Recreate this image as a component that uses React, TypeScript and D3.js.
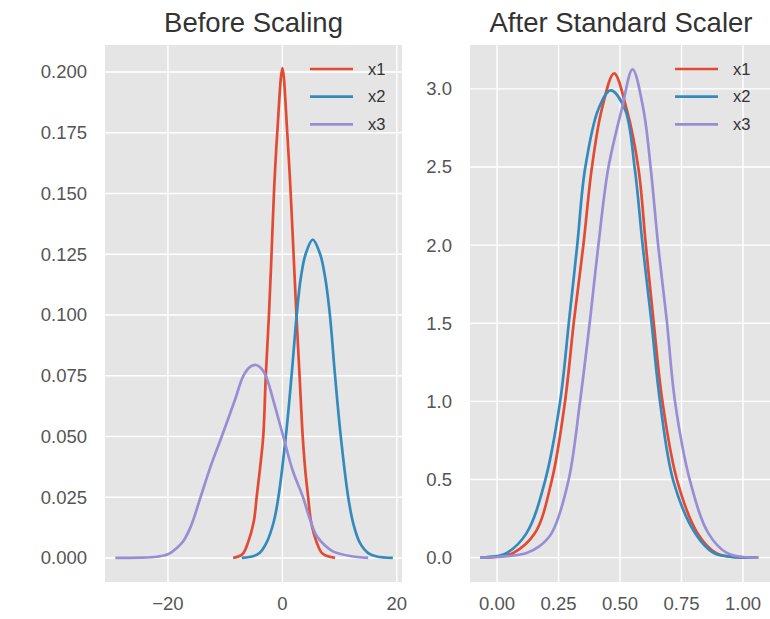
import React from "react";
import * as d3 from "d3";

// ---------- data ----------
const seriesNames = ["x1", "x2", "x3"];
const seriesColors = ["#E24A33", "#348ABD", "#988ED5"];

const beforeX1: [number, number][] = [
  [-8.6, 0], [-7, 0.0015], [-6, 0.0064], [-5, 0.015], [-4.5, 0.025], [-4, 0.035],
  [-3.35, 0.05], [-2.9, 0.075], [-2.35, 0.1], [-1.9, 0.125], [-1.48, 0.15], [-0.9, 0.175],
  [0, 0.2016], [0.85, 0.175], [1.45, 0.15], [1.95, 0.125], [2.45, 0.1], [3.0, 0.075],
  [3.55, 0.05], [4.0, 0.036], [4.5, 0.025], [5, 0.015], [6, 0.0064], [7, 0.0018], [9.2, 0],
];
const beforeX2: [number, number][] = [
  [-7.1, 0], [-5, 0.0008], [-4, 0.002], [-2.75, 0.0064], [-1.5, 0.015], [-0.7, 0.025],
  [0.6, 0.05], [1.6, 0.075], [2.5, 0.1], [3.2, 0.115], [4.05, 0.125], [5.3, 0.131],
  [6.6, 0.125], [7.5, 0.115], [8.3, 0.1], [9.2, 0.075], [10.2, 0.05], [11.5, 0.025],
  [12.4, 0.014], [13.5, 0.0064], [15, 0.002], [16.5, 0.0006], [19.3, 0],
];
const beforeX3: [number, number][] = [
  [-29.2, 0], [-25, 0.0001], [-22, 0.0005], [-20, 0.0015], [-18.5, 0.004], [-17.3, 0.007],
  [-16, 0.013], [-14.3, 0.025], [-12.5, 0.038], [-10.6, 0.05], [-8.3, 0.065], [-6.8, 0.075],
  [-5.6, 0.0787], [-4.6, 0.0794], [-3.8, 0.0783], [-2.9, 0.075], [-1.6, 0.065], [0.15, 0.05],
  [1.8, 0.036], [3.6, 0.025], [4.8, 0.016], [6.0, 0.009], [7.5, 0.005], [8.9, 0.0026],
  [11.8, 0.0008], [15, 0],
];

const afterX1: [number, number][] = [
  [-0.069, 0], [0.0, 0.006], [0.066, 0.03], [0.154, 0.157], [0.222, 0.49], [0.276, 0.994],
  [0.313, 1.52], [0.351, 2.0], [0.385, 2.49], [0.426, 2.87], [0.476, 3.1], [0.527, 2.87],
  [0.575, 2.49], [0.605, 2.0], [0.636, 1.52], [0.673, 0.994], [0.733, 0.49], [0.815, 0.157],
  [0.89, 0.03], [0.95, 0.006], [1.062, 0],
];
const afterX2: [number, number][] = [
  [-0.069, 0], [0.0, 0.01], [0.04, 0.03], [0.12, 0.157], [0.195, 0.49], [0.256, 0.994],
  [0.293, 1.52], [0.326, 2.0], [0.358, 2.49], [0.412, 2.87], [0.462, 2.99], [0.52, 2.87],
  [0.56, 2.49], [0.592, 2.0], [0.627, 1.52], [0.663, 0.994], [0.717, 0.49], [0.805, 0.157],
  [0.88, 0.03], [0.95, 0.006], [1.062, 0],
];
const afterX3: [number, number][] = [
  [-0.069, 0], [0.0, 0.004], [0.06, 0.012], [0.12, 0.03], [0.17, 0.07], [0.222, 0.157],
  [0.29, 0.49], [0.337, 0.994], [0.378, 1.52], [0.412, 2.0], [0.452, 2.49], [0.507, 2.87],
  [0.551, 3.125], [0.595, 2.87], [0.625, 2.49], [0.655, 2.0], [0.69, 1.52], [0.724, 0.994],
  [0.785, 0.49], [0.859, 0.157], [0.934, 0.03], [1.0, 0.004], [1.062, 0],
];

const beforeXTicks = [-20, 0, 20];
const beforeYTicks = [0, 0.025, 0.05, 0.075, 0.1, 0.125, 0.15, 0.175, 0.2];
const afterXTicks = [0, 0.25, 0.5, 0.75, 1.0];
const afterYTicks = [0, 0.5, 1.0, 1.5, 2.0, 2.5, 3.0];

const beforeXDomain: [number, number] = [-31.0, 20.9];
const beforeYDomain: [number, number] = [-0.0099, 0.2111];
const afterXDomain: [number, number] = [-0.11, 1.118];
const afterYDomain: [number, number] = [-0.156, 3.281];

const FONT = "'Liberation Sans', Arial, sans-serif";

type PanelProps = {
  title: string;
  left: number;
  right: number;
  series: [number, number][][];
  xDomain: [number, number];
  yDomain: [number, number];
  xTicks: number[];
  yTicks: number[];
  xFmt: (v: number) => string;
  yFmt: (v: number) => string;
  legendX: number;
  clipId: string;
};

const TOP = 45;
const BOTTOM = 582;

function Panel(p: PanelProps) {
  const x = d3.scaleLinear().domain(p.xDomain).range([p.left, p.right]);
  const y = d3.scaleLinear().domain(p.yDomain).range([BOTTOM, TOP]);
  const line = d3
    .line<[number, number]>()
    .x((d) => x(d[0]))
    .y((d) => y(d[1]))
    .curve(d3.curveCatmullRom.alpha(0.5));
  return (
    <g>
      <defs>
        <clipPath id={p.clipId}>
          <rect x={p.left} y={TOP} width={p.right - p.left} height={BOTTOM - TOP} />
        </clipPath>
      </defs>
      <rect x={p.left} y={TOP} width={p.right - p.left} height={BOTTOM - TOP} fill="#E5E5E5" />
      {p.yTicks.map((t) => (
        <line key={"gy" + t} x1={p.left} x2={p.right} y1={y(t)} y2={y(t)} stroke="#fff" strokeWidth={1.4} />
      ))}
      {p.xTicks.map((t) => (
        <line key={"gx" + t} x1={x(t)} x2={x(t)} y1={TOP} y2={BOTTOM} stroke="#fff" strokeWidth={1.4} />
      ))}
      <g clipPath={`url(#${p.clipId})`}>
        {p.series.map((s, i) => (
          <path key={i} d={line(s) || ""} fill="none" stroke={seriesColors[i]} strokeWidth={2.7} strokeLinejoin="round" />
        ))}
      </g>
      {p.yTicks.map((t) => (
        <text key={"ty" + t} x={p.left - 18} y={y(t)} dy="0.35em" textAnchor="end" fontSize={18.5} fill="#555" fontFamily={FONT}>
          {p.yFmt(t)}
        </text>
      ))}
      {p.xTicks.map((t) => (
        <text key={"tx" + t} x={x(t)} y={BOTTOM + 28} textAnchor="middle" fontSize={18.5} fill="#555" fontFamily={FONT}>
          {p.xFmt(t)}
        </text>
      ))}
      <text
        x={(p.left + p.right) / 2}
        y={32}
        textAnchor="middle"
        fontSize={27.5}
        fill="#333"
        fontFamily={FONT}
      >
        {p.title}
      </text>
      {seriesNames.map((n, i) => (
        <g key={n}>
          <line
            x1={p.legendX}
            x2={p.legendX + 43}
            y1={69 + i * 27.7}
            y2={69 + i * 27.7}
            stroke={seriesColors[i]}
            strokeWidth={2.7}
          />
          <text x={p.legendX + 58} y={69 + i * 27.7} dy="0.35em" fontSize={16.5} fill="#333" fontFamily={FONT}>
            {n}
          </text>
        </g>
      ))}
    </g>
  );
}

const minus = (s: string) => s.replace("-", "\u2212");

export default function App() {
  return (
    <svg
      width={770}
      height={619}
      style={{ position: "absolute", left: 0, top: 0, background: "#fff" }}
    >
      <Panel
        title="Before Scaling"
        left={105}
        right={402}
        series={[beforeX1, beforeX2, beforeX3]}
        xDomain={beforeXDomain}
        yDomain={beforeYDomain}
        xTicks={beforeXTicks}
        yTicks={beforeYTicks}
        xFmt={(v) => minus(d3.format("d")(v))}
        yFmt={(v) => d3.format(".3f")(v)}
        legendX={310}
        clipId="clipL"
      />
      <Panel
        title="After Standard Scaler"
        left={470}
        right={772}
        series={[afterX1, afterX2, afterX3]}
        xDomain={afterXDomain}
        yDomain={afterYDomain}
        xTicks={afterXTicks}
        yTicks={afterYTicks}
        xFmt={(v) => d3.format(".2f")(v)}
        yFmt={(v) => d3.format(".1f")(v)}
        legendX={675}
        clipId="clipR"
      />
    </svg>
  );
}
